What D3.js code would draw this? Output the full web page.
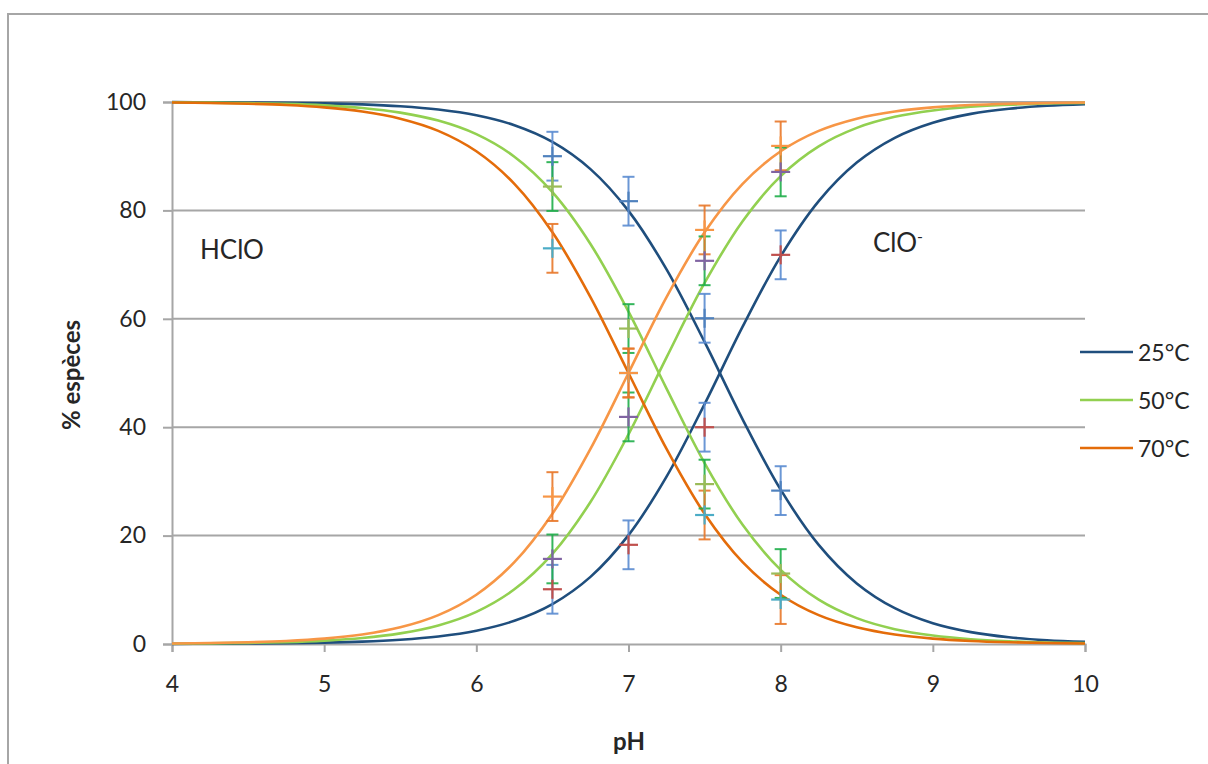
<!DOCTYPE html>
<html>
<head>
<meta charset="utf-8">
<script src="https://cdn.jsdelivr.net/npm/d3@7"></script>
<style>
  html, body { margin: 0; padding: 0; background: #fff; }
  svg { display: block; font-family: Lato, "Open Sans", sans-serif; }
</style>
</head>
<body>
<svg id="chart" width="1208" height="764"></svg>
<script>
// ---- Data ----
const curvePH = [4, 4.25, 4.5, 4.75, 5, 5.25, 5.5, 5.75, 6, 6.25, 6.5, 6.75, 7, 7.25, 7.5, 7.75, 8, 8.25, 8.5, 8.75, 9, 9.25, 9.5, 9.75, 10];
const hclo25 = [99.97, 99.96, 99.92, 99.86, 99.75, 99.56, 99.21, 98.61, 97.55, 95.72, 92.64, 87.62, 79.92, 69.12, 55.73, 41.45, 28.47, 18.29, 11.18, 6.61, 3.83, 2.19, 1.24, 0.70, 0.40];
const clo25  = [0.03, 0.04, 0.08, 0.14, 0.25, 0.44, 0.79, 1.39, 2.45, 4.28, 7.36, 12.38, 20.08, 30.88, 44.27, 58.55, 71.53, 81.71, 88.82, 93.39, 96.17, 97.81, 98.76, 99.30, 99.60];
const hclo50 = [99.94, 99.89, 99.80, 99.65, 99.37, 98.89, 98.04, 96.57, 94.06, 89.91, 83.37, 73.81, 61.31, 47.12, 33.39, 21.99, 13.68, 8.18, 4.77, 2.74, 1.56, 0.88, 0.50, 0.28, 0.16];
const clo50  = [0.06, 0.11, 0.20, 0.35, 0.63, 1.11, 1.96, 3.43, 5.94, 10.09, 16.63, 26.19, 38.69, 52.88, 66.61, 78.01, 86.32, 91.82, 95.23, 97.26, 98.44, 99.12, 99.50, 99.72, 99.84];
const hclo70 = [99.90, 99.82, 99.68, 99.44, 99.01, 98.25, 96.93, 94.68, 90.91, 84.91, 75.97, 64.00, 50.00, 36.00, 24.03, 15.09, 9.09, 5.32, 3.07, 1.75, 0.99, 0.56, 0.32, 0.18, 0.10];
const clo70  = [0.10, 0.18, 0.32, 0.56, 0.99, 1.75, 3.07, 5.32, 9.09, 15.09, 24.03, 36.00, 50.00, 64.00, 75.97, 84.91, 90.91, 94.68, 96.93, 98.25, 99.01, 99.44, 99.68, 99.82, 99.90];

const pointPH = [6.5, 7, 7.5, 8];
const hclo25Pts = [90, 81.7, 60.1, 28.3];
const clo25Pts  = [10.1, 18.3, 40, 71.8];
const hclo50Pts = [84.4, 58.2, 29.5, 13];
const clo50Pts  = [15.7, 41.9, 70.7, 87.1];
const hclo70Pts = [73, 50, 23.8, 8.2];
const clo70Pts  = [27.2, 50, 76.4, 91.9];
const pointErr  = [4.5, 4.5, 4.5, 4.5];

const xTicks = [4, 5, 6, 7, 8, 9, 10];
const yTicks = [0, 20, 40, 60, 80, 100];
const legendLabels = ["25°C", "50°C", "70°C"];

// ---- Styles ----
const C = {
  navy: "#1f4e7d", green: "#92d050", orangeDark: "#e46c0a", orangeLight: "#f79646",
  grid: "#a6a6a6", text: "#262626"
};

const svg = d3.select("#chart");
const x = d3.scaleLinear().domain([4, 10]).range([172, 1085]);
const y = d3.scaleLinear().domain([0, 100]).range([644, 102]);

// outer border
svg.append("rect").attr("x", 8).attr("y", 14).attr("width", 1220).attr("height", 780)
  .attr("fill", "none").attr("stroke", C.grid).attr("stroke-width", 2);

// gridlines
svg.append("g").selectAll("line").data(yTicks.filter(d => d > 0)).join("line")
  .attr("x1", x(4)).attr("x2", x(10)).attr("y1", d => y(d)).attr("y2", d => y(d))
  .attr("stroke", C.grid).attr("stroke-width", 2);

// axes
const yAxis = d3.axisLeft(y).tickValues(yTicks).tickSize(9).tickPadding(17).tickFormat(d3.format("d"));
const gy = svg.append("g").attr("transform", `translate(${x(4)},0)`).call(yAxis);
const xAxis = d3.axisBottom(x).tickValues(xTicks).tickSize(8).tickPadding(24).tickFormat(d3.format("d"));
const gx = svg.append("g").attr("transform", `translate(0,${y(0)})`).call(xAxis);
[gx, gy].forEach(g => {
  g.select(".domain").attr("stroke", C.grid).attr("stroke-width", 2);
  g.selectAll(".tick line").attr("stroke", C.grid).attr("stroke-width", 2);
  g.selectAll(".tick text").attr("fill", C.text).style("font-size", "23px").style("font-family", "Lato, sans-serif");
});

// curves
const line = d3.line().x(d => x(d[0])).y(d => y(d[1])).curve(d3.curveCatmullRom.alpha(0.5));
const curves = [
  { v: clo25, c: C.navy }, { v: hclo25, c: C.navy },
  { v: clo50, c: C.green }, { v: hclo50, c: C.green },
  { v: clo70, c: C.orangeLight }, { v: hclo70, c: C.orangeDark }
];
svg.append("g").selectAll("path").data(curves).join("path")
  .attr("d", s => line(curvePH.map((p, i) => [p, s.v[i]])))
  .attr("fill", "none").attr("stroke", s => s.c).attr("stroke-width", 2.6);

// data points with error bars
const pointSeries = [
  { v: hclo25Pts, cross: "#4f81bd", err: "#5b8cd0" },
  { v: clo25Pts,  cross: "#c0504d", err: "#5b8cd0" },
  { v: hclo50Pts, cross: "#9bbb59", err: "#1fae4a" },
  { v: clo50Pts,  cross: "#8064a2", err: "#1fae4a" },
  { v: hclo70Pts, cross: "#4bacc6", err: "#e8782a" },
  { v: clo70Pts,  cross: "#f79646", err: "#e8782a" }
];
const gErr = svg.append("g");
const gCross = svg.append("g");
pointSeries.forEach(s => {
  const pts = pointPH.map((p, i) => ({ px: x(p), py: y(s.v[i]), lo: y(s.v[i] - pointErr[i]), hi: y(s.v[i] + pointErr[i]) }));
  const eg = gErr.append("g").attr("stroke", s.err).attr("stroke-width", 2).attr("stroke-opacity", 0.9);
  eg.selectAll(".v").data(pts).join("line").attr("x1", d => d.px).attr("x2", d => d.px).attr("y1", d => d.lo).attr("y2", d => d.hi);
  eg.selectAll(".t").data(pts).join("line").attr("x1", d => d.px - 6).attr("x2", d => d.px + 6).attr("y1", d => d.hi).attr("y2", d => d.hi);
  eg.selectAll(".b").data(pts).join("line").attr("x1", d => d.px - 6).attr("x2", d => d.px + 6).attr("y1", d => d.lo).attr("y2", d => d.lo);
  const cg = gCross.append("g").attr("stroke", s.cross).attr("stroke-width", 2.2);
  cg.selectAll(".h").data(pts).join("line").attr("x1", d => d.px - 9.5).attr("x2", d => d.px + 9.5).attr("y1", d => d.py).attr("y2", d => d.py);
  cg.selectAll(".vv").data(pts).join("line").attr("x1", d => d.px).attr("x2", d => d.px).attr("y1", d => d.py - 9.5).attr("y2", d => d.py + 9.5);
});

// annotations
svg.append("text").attr("x", 200).attr("y", 259).attr("fill", C.text)
  .style("font-size", "26px").text("HClO");
const clo = svg.append("text").attr("x", 873).attr("y", 252).attr("fill", C.text).style("font-size", "26px");
clo.append("tspan").text("ClO");
clo.append("tspan").attr("dy", -10).style("font-size", "16px").text("-");

// axis titles
svg.append("text").attr("transform", `translate(80,375) rotate(-90)`).attr("text-anchor", "middle")
  .attr("fill", C.text).style("font-size", "24px").style("font-weight", "bold").text("% espèces");
svg.append("text").attr("x", 629).attr("y", 750).attr("text-anchor", "middle")
  .attr("fill", C.text).style("font-size", "24px").style("font-weight", "bold").text("pH");

// legend
const legendColors = [C.navy, C.green, C.orangeDark];
const legendY = [352, 400, 448];
const lg = svg.append("g");
legendLabels.forEach((lab, i) => {
  lg.append("line").attr("x1", 1080).attr("x2", 1133).attr("y1", legendY[i]).attr("y2", legendY[i])
    .attr("stroke", legendColors[i]).attr("stroke-width", 2.6);
  lg.append("text").attr("x", 1138).attr("y", legendY[i] + 8.5).attr("fill", C.text)
    .style("font-size", "23px").text(lab);
});
</script>
</body>
</html>
